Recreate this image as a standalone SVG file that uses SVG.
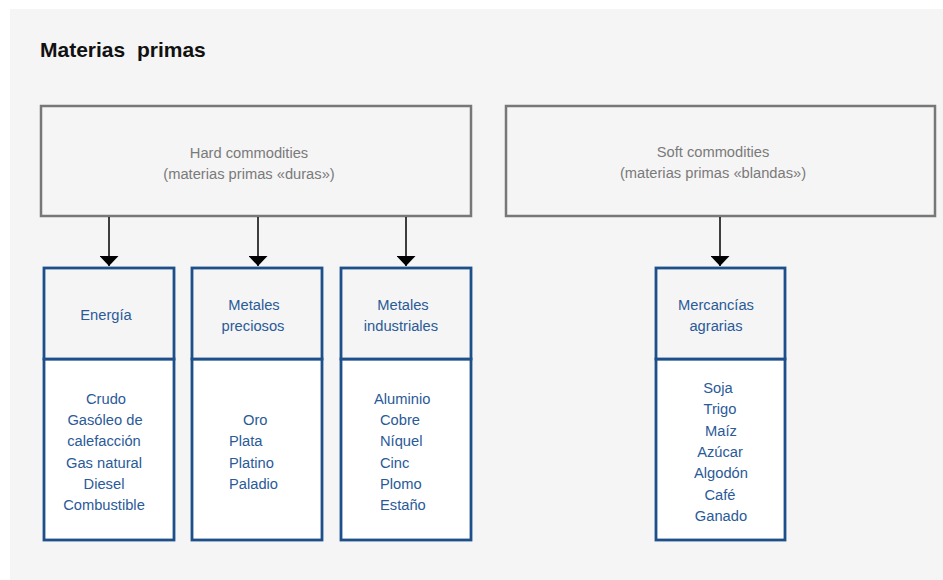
<svg xmlns="http://www.w3.org/2000/svg" width="943" height="580" viewBox="0 0 943 580">
<style>
text{font-family:"Liberation Sans",Arial,sans-serif;font-size:14.7px}
.title{font-size:21px;font-weight:bold;fill:#111}
.gbox{fill:#f5f5f5;stroke:#777;stroke-width:2.5}
.gtxt{fill:#7a7a7a;text-anchor:middle}
.hdr{fill:#f5f5f5;stroke:#1d4f8b;stroke-width:2.8}
.body{fill:#fff;stroke:#1d4f8b;stroke-width:2.8}
.btxt{fill:#2a5a98}
.c{text-anchor:middle}
.conn line{stroke:#000;stroke-width:1.5}
</style>
<defs>
<marker id="ah" markerWidth="10" markerHeight="19" refX="10" refY="9.5" orient="auto" markerUnits="userSpaceOnUse" viewBox="0 0 10 19">
<path d="M0,0 L10,9.5 L0,19 Z" fill="#000"/>
</marker>
</defs>
<rect x="0" y="0" width="943" height="580" fill="#fff"/>
<rect x="10" y="9" width="933" height="571" fill="#f5f5f5"/>
<text class="title" x="40" y="57" xml:space="preserve">Materias  primas</text>

<g id="hard">
<rect class="gbox" x="41" y="106" width="430" height="110"/>
<text class="gtxt" x="249" y="158">Hard commodities</text>
<text class="gtxt" x="249" y="179">(materias primas «duras»)</text>
</g>
<g id="soft">
<rect class="gbox" x="506" y="106" width="429" height="110"/>
<text class="gtxt" x="713" y="157">Soft commodities</text>
<text class="gtxt" x="713" y="178">(materias primas «blandas»)</text>
</g>

<g class="conn" id="connectors">
<line x1="109" y1="217" x2="109" y2="266" marker-end="url(#ah)"/>
<line x1="258" y1="217" x2="258" y2="266" marker-end="url(#ah)"/>
<line x1="406" y1="217" x2="406" y2="266" marker-end="url(#ah)"/>
<line x1="720" y1="217" x2="720" y2="266" marker-end="url(#ah)"/>
</g>

<g id="energia">
<rect class="body" x="44" y="359" width="130" height="181"/>
<rect class="hdr" x="44" y="268" width="130" height="91"/>
<text class="btxt c" x="106" y="320">Energía</text>
<text class="btxt c" x="106" y="404">Crudo</text>
<text class="btxt c" x="105" y="425">Gasóleo de</text>
<text class="btxt c" x="104" y="446">calefacción</text>
<text class="btxt c" x="104" y="468">Gas natural</text>
<text class="btxt c" x="104" y="489">Diesel</text>
<text class="btxt c" x="104" y="510">Combustible</text>
</g>

<g id="preciosos">
<rect class="body" x="192" y="359" width="130" height="181"/>
<rect class="hdr" x="192" y="268" width="130" height="91"/>
<text class="btxt c" x="254" y="310">Metales</text>
<text class="btxt c" x="253" y="331">preciosos</text>
<text class="btxt" x="243" y="425">Oro</text>
<text class="btxt" x="229" y="446">Plata</text>
<text class="btxt" x="229" y="468">Platino</text>
<text class="btxt" x="229" y="489">Paladio</text>
</g>

<g id="industriales">
<rect class="body" x="341" y="359" width="130" height="181"/>
<rect class="hdr" x="341" y="268" width="130" height="91"/>
<text class="btxt c" x="403" y="310">Metales</text>
<text class="btxt c" x="401" y="331">industriales</text>
<text class="btxt" x="374" y="404">Aluminio</text>
<text class="btxt" x="380" y="425">Cobre</text>
<text class="btxt" x="380" y="446">Níquel</text>
<text class="btxt" x="380" y="468">Cinc</text>
<text class="btxt" x="380" y="489">Plomo</text>
<text class="btxt" x="380" y="510">Estaño</text>
</g>

<g id="agrarias">
<rect class="body" x="656" y="359" width="129" height="181"/>
<rect class="hdr" x="656" y="268" width="129" height="91"/>
<text class="btxt c" x="716" y="310">Mercancías</text>
<text class="btxt c" x="716" y="331">agrarias</text>
<text class="btxt c" x="718" y="393">Soja</text>
<text class="btxt c" x="720" y="414">Trigo</text>
<text class="btxt c" x="721" y="436">Maíz</text>
<text class="btxt c" x="720" y="457">Azúcar</text>
<text class="btxt c" x="721" y="478">Algodón</text>
<text class="btxt c" x="720" y="500">Café</text>
<text class="btxt c" x="721" y="521">Ganado</text>
</g>
</svg>
